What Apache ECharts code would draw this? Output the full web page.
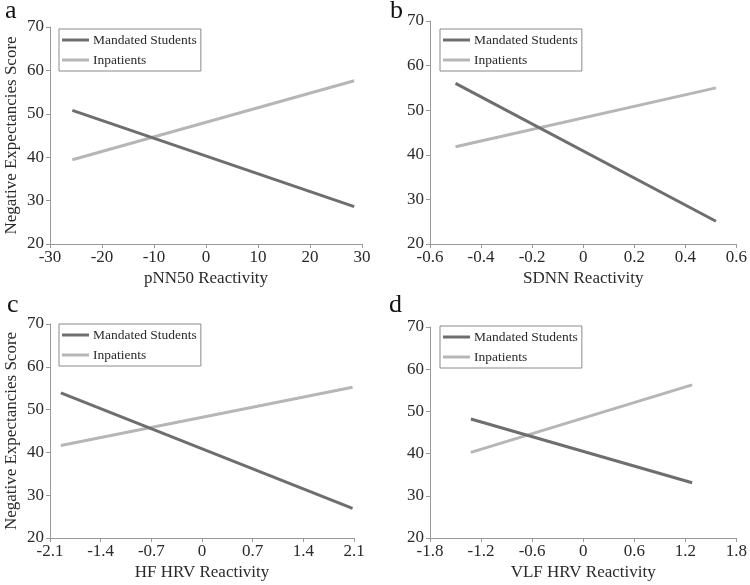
<!DOCTYPE html>
<html>
<head>
<meta charset="utf-8">
<script src="https://cdn.jsdelivr.net/npm/echarts@6/dist/echarts.min.js"></script>
<style>
html,body{margin:0;padding:0;background:#fff;}
#chart{width:750px;height:585px;}
</style>
</head>
<body>
<div id="chart"></div>
<script>
// ---- data ----
var seriesNames = ['Mandated Students', 'Inpatients'];
var panelLetters = ['a', 'b', 'c', 'd'];
var xAxisTitles = ['pNN50 Reactivity', 'SDNN Reactivity', 'HF HRV Reactivity', 'VLF HRV Reactivity'];
var yAxisTitle = 'Negative Expectancies Score';
var yTicks = [20, 30, 40, 50, 60, 70];
var xTicksA = [-30, -20, -10, 0, 10, 20, 30];
var xTicksB = [-0.6, -0.4, -0.2, 0, 0.2, 0.4, 0.6];
var xTicksC = [-2.1, -1.4, -0.7, 0, 0.7, 1.4, 2.1];
var xTicksD = [-1.8, -1.2, -0.6, 0, 0.6, 1.2, 1.8];
// x endpoints of the simple slopes
var xEndsA = [-25.7, 28.5];
var xEndsB = [-0.5, 0.52];
var xEndsC = [-1.95, 2.08];
var xEndsD = [-1.32, 1.28];
// y values at those endpoints
var mandatedA = [50.8, 28.6];
var inpatientsA = [39.4, 57.6];
var mandatedB = [56.0, 25.1];
var inpatientsB = [41.8, 55.0];
var mandatedC = [53.9, 26.9];
var inpatientsC = [41.6, 55.2];
var mandatedD = [48.2, 33.1];
var inpatientsD = [40.3, 56.3];

// ---- layout ----
var FONT = 'Liberation Serif';
var TEXT = '#2a2a2a';
var AXIS = '#9a9a9a';
var COLORS = ['#6e6e6e', '#b6b6b6'];
var grids = [
  {left: 50, top: 27, width: 312, height: 217},
  {left: 430, top: 21, width: 307, height: 223},
  {left: 50, top: 324, width: 304, height: 214},
  {left: 430, top: 327, width: 307, height: 211}
];
var legendPos = [
  {left: 59, top: 29},
  {left: 440, top: 29},
  {left: 59, top: 324},
  {left: 440, top: 326}
];
var letterPos = [
  {left: 5, top: -2},
  {left: 390, top: -2},
  {left: 7, top: 292},
  {left: 389, top: 292}
];
var xTickSets = [xTicksA, xTicksB, xTicksC, xTicksD];
var xEnds = [xEndsA, xEndsB, xEndsC, xEndsD];
var mandated = [mandatedA, mandatedB, mandatedC, mandatedD];
var inpatients = [inpatientsA, inpatientsB, inpatientsC, inpatientsD];

function fmt(v) { var r = Math.round(v * 10) / 10; return String(r); }
function pts(xs, ys) { return xs.map(function (x, i) { return [x, ys[i]]; }); }

var option = {
  backgroundColor: '#fff',
  animation: false,
  textStyle: {fontFamily: FONT, color: TEXT},
  title: [], grid: [], xAxis: [], yAxis: [], series: [], legend: []
};

for (var i = 0; i < 4; i++) {
  var xt = xTickSets[i];
  option.title.push({
    text: panelLetters[i], left: letterPos[i].left, top: letterPos[i].top, padding: 0,
    textStyle: {fontFamily: FONT, fontSize: 26, fontWeight: 'normal', color: '#111'}
  });
  option.grid.push(Object.assign({containLabel: false}, grids[i]));
  option.xAxis.push({
    type: 'value', gridIndex: i,
    min: xt[0], max: xt[xt.length - 1], interval: Math.round((xt[1] - xt[0]) * 10) / 10,
    name: xAxisTitles[i], nameLocation: 'middle', nameGap: 26,
    nameTextStyle: {fontFamily: FONT, fontSize: 17, color: TEXT},
    axisLine: {onZero: false, lineStyle: {color: AXIS, width: 1}},
    axisTick: {show: true, length: 4, inside: false, lineStyle: {color: AXIS}},
    axisLabel: {fontFamily: FONT, fontSize: 17, color: TEXT, margin: 5, formatter: fmt},
    splitLine: {show: false}
  });
  option.yAxis.push({
    type: 'value', gridIndex: i,
    min: yTicks[0], max: yTicks[yTicks.length - 1], interval: yTicks[1] - yTicks[0],
    name: (i % 2 === 0) ? yAxisTitle : '', nameLocation: 'middle', nameGap: 30,
    nameTextStyle: {fontFamily: FONT, fontSize: 17, color: TEXT},
    axisLine: {show: true, onZero: false, lineStyle: {color: AXIS, width: 1}},
    axisTick: {show: true, length: 4, inside: false, lineStyle: {color: AXIS}},
    axisLabel: {fontFamily: FONT, fontSize: 17, color: TEXT, margin: 6},
    splitLine: {show: false}
  });
  option.series.push({
    name: seriesNames[0], type: 'line', xAxisIndex: i, yAxisIndex: i,
    data: pts(xEnds[i], mandated[i]), showSymbol: false, symbol: 'none',
    lineStyle: {color: COLORS[0], width: 3}, itemStyle: {color: COLORS[0]}, z: 3
  });
  option.series.push({
    name: seriesNames[1], type: 'line', xAxisIndex: i, yAxisIndex: i,
    data: pts(xEnds[i], inpatients[i]), showSymbol: false, symbol: 'none',
    lineStyle: {color: COLORS[1], width: 3}, itemStyle: {color: COLORS[1]}, z: 2
  });
  option.legend.push({
    data: seriesNames.slice(), orient: 'vertical',
    left: legendPos[i].left, top: legendPos[i].top,
    icon: 'rect', itemWidth: 27, itemHeight: 3, itemGap: 6,
    padding: [4, 4, 4, 3],
    borderColor: '#8a8a8a', borderWidth: 1, backgroundColor: '#fff',
    textStyle: {fontFamily: FONT, fontSize: 13.5, color: TEXT, padding: [0, 0, 0, -1]},
    selectedMode: false
  });
}

var chart = echarts.init(document.getElementById('chart'), null, {renderer: 'canvas'});
chart.setOption(option);
</script>
</body>
</html>
